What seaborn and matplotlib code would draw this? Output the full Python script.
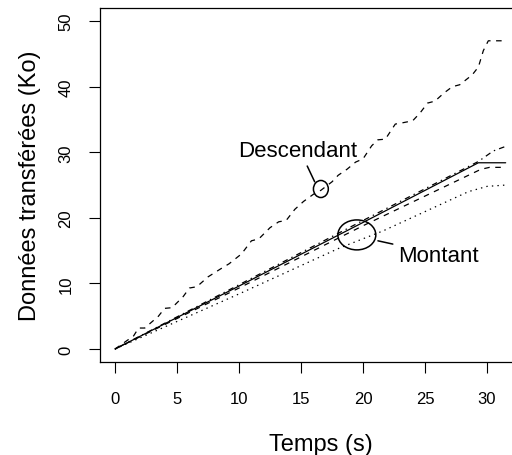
import matplotlib
matplotlib.use("Agg")
import matplotlib.pyplot as plt
from matplotlib.patches import Ellipse
import pandas as pd
import seaborn as sns

sns.set_style("ticks", {"axes.edgecolor": "black", "text.color": "black",
                        "axes.labelcolor": "black", "xtick.color": "black",
                        "ytick.color": "black"})
plt.rcParams["font.family"] = ["Liberation Sans", "DejaVu Sans"]
plt.rcParams["lines.scale_dashes"] = False

# Descendant (dashed, staircase)
desc_t = [0, 1.5, 1.9, 2.4, 3.5, 4.0, 4.6, 5.5, 6.0, 6.6, 7.5, 8.5, 9.2, 10.2,
          11.0, 11.6, 12.5, 13.2, 13.8, 14.5, 15.2, 16.0, 16.6, 17.5, 18.0,
          18.7, 19.4, 20.0, 20.7, 21.2, 21.8, 22.6, 23.2, 24.0, 24.6, 25.2,
          25.8, 26.5, 27.2, 27.8, 28.8, 29.3, 29.7, 30.1, 31.5]
desc_ko = [0, 2.0, 3.2, 3.2, 5.0, 6.2, 6.3, 8.0, 9.3, 9.5, 11.0, 12.2, 13.0,
           14.5, 16.5, 16.8, 18.5, 19.4, 19.6, 21.3, 22.5, 23.6, 24.2, 25.5,
           26.5, 27.4, 28.5, 29.0, 31.0, 31.9, 32.0, 34.3, 34.5, 34.8, 36.0,
           37.5, 37.8, 39.0, 40.0, 40.3, 41.8, 43.0, 45.5, 47.0, 47.0]

# Montant (four runs)
mont_solid_t = [0, 10, 20, 29.3, 31.5]
mont_solid_ko = [0, 9.6, 19.3, 28.4, 28.4]
mont_dash_t = [0, 10, 20, 29.5, 30.2, 31.5]
mont_dash_ko = [0, 9.3, 18.8, 27.4, 27.7, 27.7]
mont_dashdot_t = [0, 10, 20, 29.3, 30.5, 31.5]
mont_dashdot_ko = [0, 9.8, 19.6, 28.6, 30.2, 30.9]
mont_dot_t = [0, 10, 18.1, 21.6, 28.5, 30.0, 31.5]
mont_dot_ko = [0, 8.4, 15.4, 18.0, 24.0, 24.8, 25.0]

x_ticks = [0, 5, 10, 15, 20, 25, 30]
y_ticks = [0, 10, 20, 30, 40, 50]

fig = plt.figure(figsize=(5.12, 4.56), dpi=100)
# plot region runs past the right edge of the picture
ax = fig.add_axes([100 / 512, 93 / 456, 442 / 512, 354 / 456])

series = [
    (desc_t, desc_ko, (0, (4, 4))),
    (mont_solid_t, mont_solid_ko, "-"),
    (mont_dash_t, mont_dash_ko, (0, (4, 4))),
    (mont_dashdot_t, mont_dashdot_ko, (0, (1, 3, 4, 3))),
    (mont_dot_t, mont_dot_ko, (0, (1, 3))),
]
for t, ko, ls in series:
    df = pd.DataFrame({"t": t, "ko": ko})
    sns.lineplot(data=df, x="t", y="ko", ax=ax, color="black",
                 linewidth=0.9, linestyle=ls, estimator=None, sort=False)

# annotations
ax.add_patch(Ellipse((16.6, 24.4), 1.2, 2.6, fill=False, color="black", lw=1.1))
ax.plot([15.5, 16.1], [27.9, 25.5], color="black", lw=1.1)
ax.text(14.7, 30.2, "Descendant", ha="center", va="center", fontsize=16)

ax.add_patch(Ellipse((19.5, 17.4), 3.06, 4.57, fill=False, color="black", lw=1.1))
ax.plot([21.2, 22.4], [16.5, 16.0], color="black", lw=1.1)
ax.text(22.8, 14.2, "Montant", ha="left", va="center", fontsize=16)

ax.set_xlim(-1.21, 34.43)
ax.set_ylim(-1.98, 52.0)
ax.set_xticks(x_ticks)
ax.set_yticks(y_ticks)
ax.tick_params(axis="both", direction="out", length=8, width=0.8,
               labelsize=12)
ax.tick_params(axis="x", pad=13)
ax.tick_params(axis="y", pad=11)
for lab in ax.get_yticklabels():
    lab.set_rotation(90)
    lab.set_va("center")
ax.set_xlabel("Temps (s)", fontsize=17, labelpad=19)
ax.set_ylabel("Données transférées (Ko)", fontsize=17, labelpad=13)
ax.spines["right"].set_visible(False)
for s in ["left", "top", "bottom"]:
    ax.spines[s].set_linewidth(0.9)

fig.savefig("out.png", dpi=100)
